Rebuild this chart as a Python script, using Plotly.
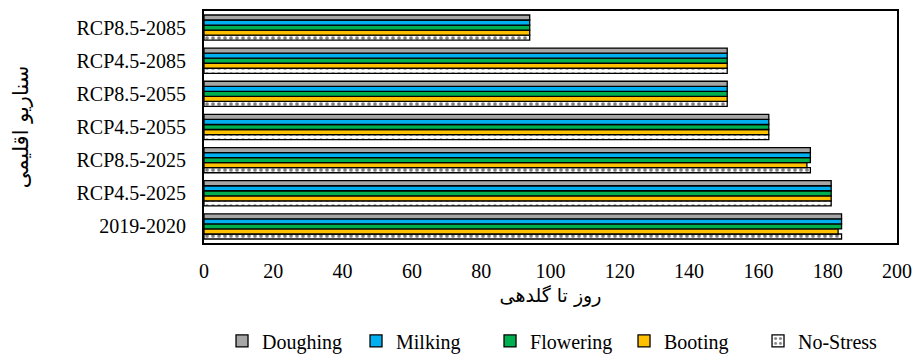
import plotly.graph_objects as go

categories = ["2019-2020", "RCP4.5-2025", "RCP8.5-2025", "RCP4.5-2055",
              "RCP8.5-2055", "RCP4.5-2085", "RCP8.5-2085"]
doughing = [184, 181, 175, 163, 151, 151, 94]
milking = [184, 181, 175, 163, 151, 151, 94]
flowering = [184, 181, 175, 163, 151, 151, 94]
booting = [183, 181, 174, 163, 151, 151, 94]
no_stress = [184, 181, 175, 163, 151, 151, 94]
x_ticks = list(range(0, 201, 20))

serif = "Liberation Serif"
arabic = "DejaVu Sans"

fig = go.Figure()
series = [
    ("No-Stress", no_stress, "white"),
    ("Booting", booting, "#FFC000"),
    ("Flowering", flowering, "#00B050"),
    ("Milking", milking, "#00B0F0"),
    ("Doughing", doughing, "#A6A6A6"),
]
for name, vals, color in series:
    marker = dict(color=color, line=dict(color="black", width=1.3))
    if name == "No-Stress":
        marker["pattern"] = dict(shape=".", fgcolor="black", bgcolor="white",
                                 size=6, solidity=0.3)
    fig.add_trace(go.Bar(y=categories, x=vals, name=name, orientation="h",
                         marker=marker))

fig.update_layout(
    width=913, height=354,
    margin=dict(l=204, r=16, t=11, b=111, autoexpand=False),
    paper_bgcolor="white", plot_bgcolor="white",
    barmode="group", bargap=0.24, bargroupgap=0,
    font=dict(family=serif, size=20, color="black"),
    showlegend=True,
    legend=dict(orientation="h", traceorder="reversed", x=0.026, xanchor="left",
                y=-0.422, yanchor="middle", font=dict(family=serif, size=20),
                itemwidth=30, entrywidth=89, tracegroupgap=0),
    xaxis=dict(range=[0, 200], tickvals=x_ticks, showgrid=False, zeroline=False,
               showline=True, linecolor="black", linewidth=2, mirror=True,
               ticks="", ticklabelstandoff=9, automargin=False,
               tickfont=dict(family=serif, size=20),
               title=dict(text="روز تا گلدهی", font=dict(family=arabic, size=19),
                          standoff=8)),
    yaxis=dict(categoryorder="array", categoryarray=categories, showgrid=False,
               showline=True, linecolor="black", linewidth=2, mirror=True,
               ticks="", ticklabelstandoff=12, automargin=False,
               tickfont=dict(family=serif, size=20),
               title=dict(text="سناریو اقلیمی", font=dict(family=arabic, size=21),
                          standoff=42)),
)

fig.write_html("out.html")
